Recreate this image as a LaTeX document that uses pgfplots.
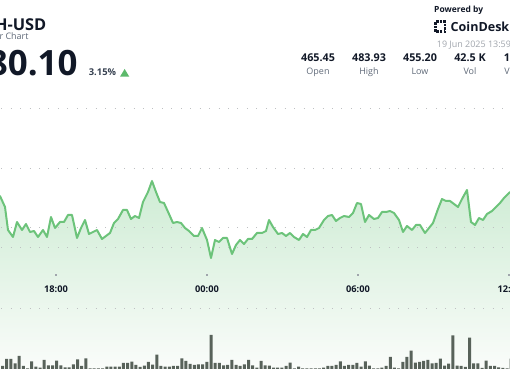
\documentclass[border=0pt]{standalone}
\usepackage{fontspec}
\setmainfont{Open Sans}
\usepackage{pgfplots}
\usepackage{pgfplotstable}
\pgfplotsset{compat=1.18}
\definecolor{linegreen}{RGB}{108,195,122}
\definecolor{fillgreen}{RGB}{206,236,212}
\definecolor{fillwhite}{RGB}{250,252,250}
\definecolor{volgray}{RGB}{88,98,90}
\definecolor{navy}{RGB}{17,24,39}
\definecolor{darkgray}{RGB}{55,65,81}
\definecolor{midgray}{RGB}{95,105,120}
\definecolor{lightgray}{RGB}{160,165,172}
\definecolor{dotgray}{RGB}{190,192,194}
\definecolor{trigreen}{RGB}{92,185,107}

% price line: x position, value (chart units)
\pgfplotstableread{
x y
0 173
5 162
8 139
13 132
17 147
22 139
26 145
30 137
34 138
38 132
43 139
47 132
51 152
55 141
60 147
64 147
68 154
72 154
77 131
81 141
85 149
89 135
93 137
97 139
102 130
106 133
110 136
114 146
118 150
123 159
127 159
131 150
135 153
139 151
143 167
148 177
152 188
156 177
160 167
164 166
169 155
173 146
177 147
181 146
185 141
189 138
194 133
198 133
202 141
207 129
211 111
215 129
219 127
223 131
227 131
232 115
236 124
240 129
244 125
248 130
252 130
257 136
262 136
266 138
269 149
273 142
278 135
282 136
286 133
290 136
294 132
299 129
303 135
307 132
311 139
315 139
319 141
324 149
328 153
332 154
336 148
340 151
344 153
349 152
353 156
357 166
361 165
365 147
369 154
374 150
378 151
382 157
386 157
390 158
394 156
399 149
403 137
407 143
412 139
416 144
420 144
425 136
429 141
433 146
438 160
442 170
446 168
450 168
454 165
458 162
462 170
467 179
471 147
475 144
479 151
483 149
487 155
492 158
496 162
500 166
504 171
508 175
510 177
}\price

% volume bars
\pgfplotstableread{
h
3
10
10
5.7
13
3
0.7
7.7
2.3
1.3
9
3.7
3.7
8.3
3.7
1.7
1.7
4.7
9.7
3
10.7
0.7
0.7
0.7
0.7
2.3
2.3
2.3
2.3
6
6
7.3
4
2
3.3
7
4.3
14.3
3
2.3
2.3
3
3
10.7
8
5
4
4.7
4.7
7
34
6
6
3.7
4
9
4
3
4.7
9
3.7
1.3
8
3.7
3.3
1.3
1.3
1.3
3
6.3
0.7
2.3
0.7
0.7
0.7
0.7
0.7
1.3
3
3
4
7.7
3
4
4
6
2.3
7.7
3.3
0.7
0.7
1.3
3
12
1.3
0.7
7
12
18.3
6.3
7
8
9
5.7
6
10.3
3.3
5.3
33.7
3.3
3
2
31.3
5.7
5.7
1
8.3
3
3
1.7
1
0.7
10.3
}\volume

\begin{document}
\begin{tikzpicture}
\path[use as bounding box] (0,0) rectangle (510bp,369bp);
\clip (0,0) rectangle (510bp,369bp);
\begin{axis}[
  at={(0,0)}, anchor=south west,
  width=510bp, height=369bp, scale only axis,
  xmin=0, xmax=510, ymin=0, ymax=369,
  hide axis, clip=true,
]
% area under the price line
\addplot[draw=none, top color=fillgreen, bottom color=fillwhite]
  table[x=x, y=y]{\price} \closedcycle;

% dotted grid lines
\pgfplotsinvokeforeach{260,200,141,121,60}{
  \draw[dotgray, line width=1bp, dash pattern=on 1bp off 8.45bp]
    (axis cs:1.2,#1) -- (axis cs:510,#1);
}
% tick dots
\pgfplotsinvokeforeach{56,207,358,509}{
  \fill[lightgray] (axis cs:#1-0.6,93.4) rectangle (axis cs:#1+0.6,94.6);
}

% volume bars
\addplot[ybar, bar width=3, bar shift=0pt, fill=volgray, draw=none]
  table[x expr=2.5+4.17*\coordindex, y=h]{\volume};

% price line
\addplot[linegreen, line width=2bp, line join=round, line cap=round]
  table[x=x, y=y]{\price};

% x labels
\node[anchor=base, inner sep=0, text=navy, font=\fontsize{9.3}{11}\selectfont\bfseries] at (axis cs:56,76.7) {18:00};
\node[anchor=base, inner sep=0, text=navy, font=\fontsize{9.3}{11}\selectfont\bfseries] at (axis cs:207,76.7) {00:00};
\node[anchor=base, inner sep=0, text=navy, font=\fontsize{9.3}{11}\selectfont\bfseries] at (axis cs:358,76.7) {06:00};
\node[anchor=base, inner sep=0, text=navy, font=\fontsize{9.3}{11}\selectfont\bfseries] at (axis cs:509.5,76.7) {12:00};
\end{axis}

% header (1bp per pixel, origin at lower left)
\begin{scope}[x=1bp, y=1bp]
\node[anchor=base east, inner sep=0, text=navy, font=\fontsize{16.4}{18}\selectfont\bfseries] at (46.5,339) {BCH-USD};
\node[anchor=base east, inner sep=0, text=midgray, font=\fontsize{9}{11}\selectfont] at (28.7,329.3) {24 Hour Chart};
\node[anchor=base east, inner sep=0, text=navy, font=\fontsize{35}{40}\selectfont\bfseries] at (77.7,294) {480.10};
\node[anchor=base west, inner sep=0, text=darkgray, font=\fontsize{9.4}{11}\selectfont\bfseries] at (88.7,294) {3.15\%};
\fill[trigreen] (120,292.3) -- (129.3,292.3) -- (124.65,300) -- cycle;

\node[anchor=base west, inner sep=0, text=navy, font=\fontsize{8.5}{10}\selectfont\bfseries] at (434,357) {Powered by};
\draw[navy, line width=2.6bp, dash pattern=on 2.4bp off 1.2bp] (435.5,337.2) rectangle (445,347.3);
\node[anchor=base west, inner sep=0, text=navy, font=\fontsize{12.6}{15}\selectfont\bfseries] at (450.5,337.3) {CoinDesk};
\node[anchor=base west, inner sep=0, text=lightgray, font=\fontsize{9}{11}\selectfont] at (436.7,322) {19 Jun 2025 13:59};

\foreach \cx/\val/\lab in {318/465.45/Open, 369/483.93/High, 420/455.20/Low, 470/42.5 K/Vol, 521/19.9 M/Vol USD}{
  \node[anchor=base, inner sep=0, text=navy, font=\fontsize{10.8}{12}\selectfont\bfseries] at (\cx,307.3) {\val};
  \node[anchor=base, inner sep=0, text=midgray, font=\fontsize{9}{11}\selectfont] at (\cx,295) {\lab};
}
\end{scope}
\end{tikzpicture}
\end{document}
